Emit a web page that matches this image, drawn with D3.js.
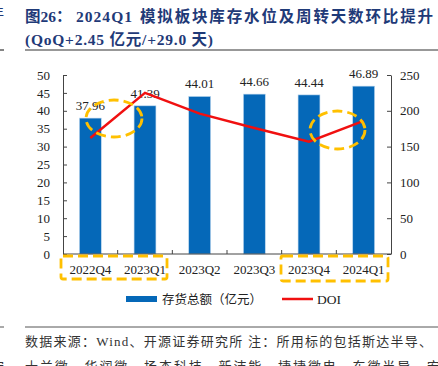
<!DOCTYPE html>
<html>
<head>
<meta charset="utf-8">
<script src="https://cdn.jsdelivr.net/npm/d3@7"></script>
<style>
  body { margin: 0; background: #fff; }
  svg { display: block; }
  .axis text { font-family: "Liberation Serif", serif; font-size: 13px; fill: #222; }
  .axis path, .axis line { stroke: #444; }
</style>
</head>
<body>
<svg id="svg" width="438" height="366"></svg>
<script>
var quarters = ["2022Q4", "2023Q1", "2023Q2", "2023Q3", "2023Q4", "2024Q1"],
  inventory = [37.96, 41.39, 44.01, 44.66, 44.44, 46.89],
  doi = [162, 225, 196, 176, 157, 186],
  leftTicks = [0, 5, 10, 15, 20, 25, 30, 35, 40, 45, 50],
  rightTicks = [0, 50, 100, 150, 200, 250];

var svg = d3.select("#svg"),
  cjk = "'Liberation Serif', 'Noto Sans CJK SC', serif",
  navy = "#1f3a78",
  blue = "#0568b8",
  gold = "#ffc000";

var x = d3.scaleBand().domain(quarters).range([63, 391]).paddingInner(0.6).paddingOuter(0.3),
  y = d3.scaleLinear().domain([0, 50]).range([254, 75]),
  y2 = d3.scaleLinear().domain([0, 250]).range([254, 75]);

// title
var title = svg.append("g").attr("font-family", cjk).attr("font-weight", "bold").attr("fill", navy)
  .attr("font-size", 15.5);
title.append("text").attr("x", 25).attr("y", 22).text("图26：");
title.append("text").attr("x", 76).attr("y", 22).attr("textLength", 56).text("2024Q1");
title.append("text").attr("x", 140).attr("y", 22).attr("textLength", 293)
  .text("模拟板块库存水位及周转天数环比提升");
title.append("text").attr("x", 25).attr("y", 45).attr("textLength", 188)
  .text("(QoQ+2.45 亿元/+29.0 天)");
svg.append("text").attr("x", -9).attr("y", 17).attr("font-family", cjk)
  .attr("font-size", 13).attr("fill", navy).text("年");
svg.append("line").attr("x1", 25).attr("x2", 438).attr("y1", 50).attr("y2", 50)
  .attr("stroke", "#333").attr("stroke-width", 1.2);
svg.append("line").attr("x1", 0).attr("x2", 4).attr("y1", 50).attr("y2", 50)
  .attr("stroke", "#333").attr("stroke-width", 1.2);

// bars
svg.append("g").selectAll("rect").data(inventory).join("rect")
  .attr("x", (d, i) => x(quarters[i]))
  .attr("y", d => y(d))
  .attr("width", x.bandwidth())
  .attr("height", d => y(0) - y(d))
  .attr("fill", blue)
  .attr("stroke", "#bcd7ee")
  .attr("stroke-width", 0.6);

svg.append("g").selectAll("text").data(inventory).join("text")
  .attr("x", (d, i) => x(quarters[i]) + x.bandwidth() / 2)
  .attr("y", d => y(d) - 8)
  .attr("text-anchor", "middle")
  .attr("font-family", "'Liberation Serif', serif")
  .attr("font-size", 13)
  .attr("fill", "#222")
  .text(d => d.toFixed(2));

// axes
svg.append("g").attr("class", "axis")
  .attr("transform", "translate(63,0)")
  .call(d3.axisLeft(y).tickValues(leftTicks).tickSizeInner(-4).tickSizeOuter(0).tickPadding(13));
svg.append("g").attr("class", "axis")
  .attr("transform", "translate(391,0)")
  .call(d3.axisRight(y2).tickValues(rightTicks).tickSizeInner(-4).tickSizeOuter(0).tickPadding(9));

var xa = svg.append("g").attr("class", "axis").attr("transform", "translate(0,254)");
xa.append("line").attr("x1", 63).attr("x2", 391).attr("stroke", "#444");
// ticks sit on the boundaries between quarters
var bounds = quarters.slice(1).map(q => x(q) - (x.step() - x.bandwidth()) / 2);
xa.selectAll(".bt").data(bounds).join("line")
  .attr("x1", d => d).attr("x2", d => d)
  .attr("y1", 0).attr("y2", -4).attr("stroke", "#444");
xa.selectAll("text").data(quarters).join("text")
  .attr("x", d => x(d) + x.bandwidth() / 2)
  .attr("y", 20)
  .attr("text-anchor", "middle")
  .text(d => d);

// DOI line
svg.append("path")
  .attr("fill", "none")
  .attr("stroke", "#f01010")
  .attr("stroke-width", 2.5)
  .attr("d", d3.line().x((d, i) => x(quarters[i]) + x.bandwidth() / 2).y(d => y2(d))(doi));

// highlight marks
var hl = svg.append("g").attr("fill", "none").attr("stroke", gold)
  .attr("stroke-width", 2.8).attr("stroke-dasharray", "10,5");
hl.append("ellipse").attr("cx", 114).attr("cy", 118.5).attr("rx", 28).attr("ry", 18.5);
hl.append("ellipse").attr("cx", 337.5).attr("cy", 130).attr("rx", 27.5).attr("ry", 19);
hl.append("rect").attr("x", 61).attr("y", 256).attr("width", 106).attr("height", 23).attr("rx", 2);
hl.append("rect").attr("x", 281).attr("y", 256).attr("width", 107).attr("height", 25).attr("rx", 2);

// legend
svg.append("rect").attr("x", 126).attr("y", 296).attr("width", 31).attr("height", 6).attr("fill", blue);
svg.append("text").attr("x", 162).attr("y", 304).attr("font-family", cjk).attr("font-size", 12.5)
  .attr("fill", "#222").text("存货总额（亿元）");
svg.append("line").attr("x1", 282).attr("x2", 313).attr("y1", 299).attr("y2", 299)
  .attr("stroke", "#f01010").attr("stroke-width", 2.5);
svg.append("text").attr("x", 317).attr("y", 304).attr("font-family", "'Liberation Serif', serif")
  .attr("font-size", 13.5).attr("fill", "#222").text("DOI");

// footer
svg.append("line").attr("x1", 25).attr("x2", 438).attr("y1", 327).attr("y2", 327)
  .attr("stroke", "#555").attr("stroke-width", 1);
svg.append("line").attr("x1", 0).attr("x2", 4).attr("y1", 327).attr("y2", 327)
  .attr("stroke", "#555").attr("stroke-width", 1);
var foot = svg.append("g").attr("font-family", cjk).attr("font-size", 13).attr("fill", "#333");
foot.append("text").attr("x", 25).attr("y", 346).attr("textLength", 407)
  .text("数据来源：Wind、开源证券研究所 注：所用标的包括斯达半导、");
foot.append("text").attr("x", 25).attr("y", 371).attr("textLength", 415)
  .text("士兰微、华润微、扬杰科技、新洁能、捷捷微电、东微半导、宏");
foot.append("text").attr("x", -9).attr("y", 371).text("宏");
</script>
</body>
</html>
